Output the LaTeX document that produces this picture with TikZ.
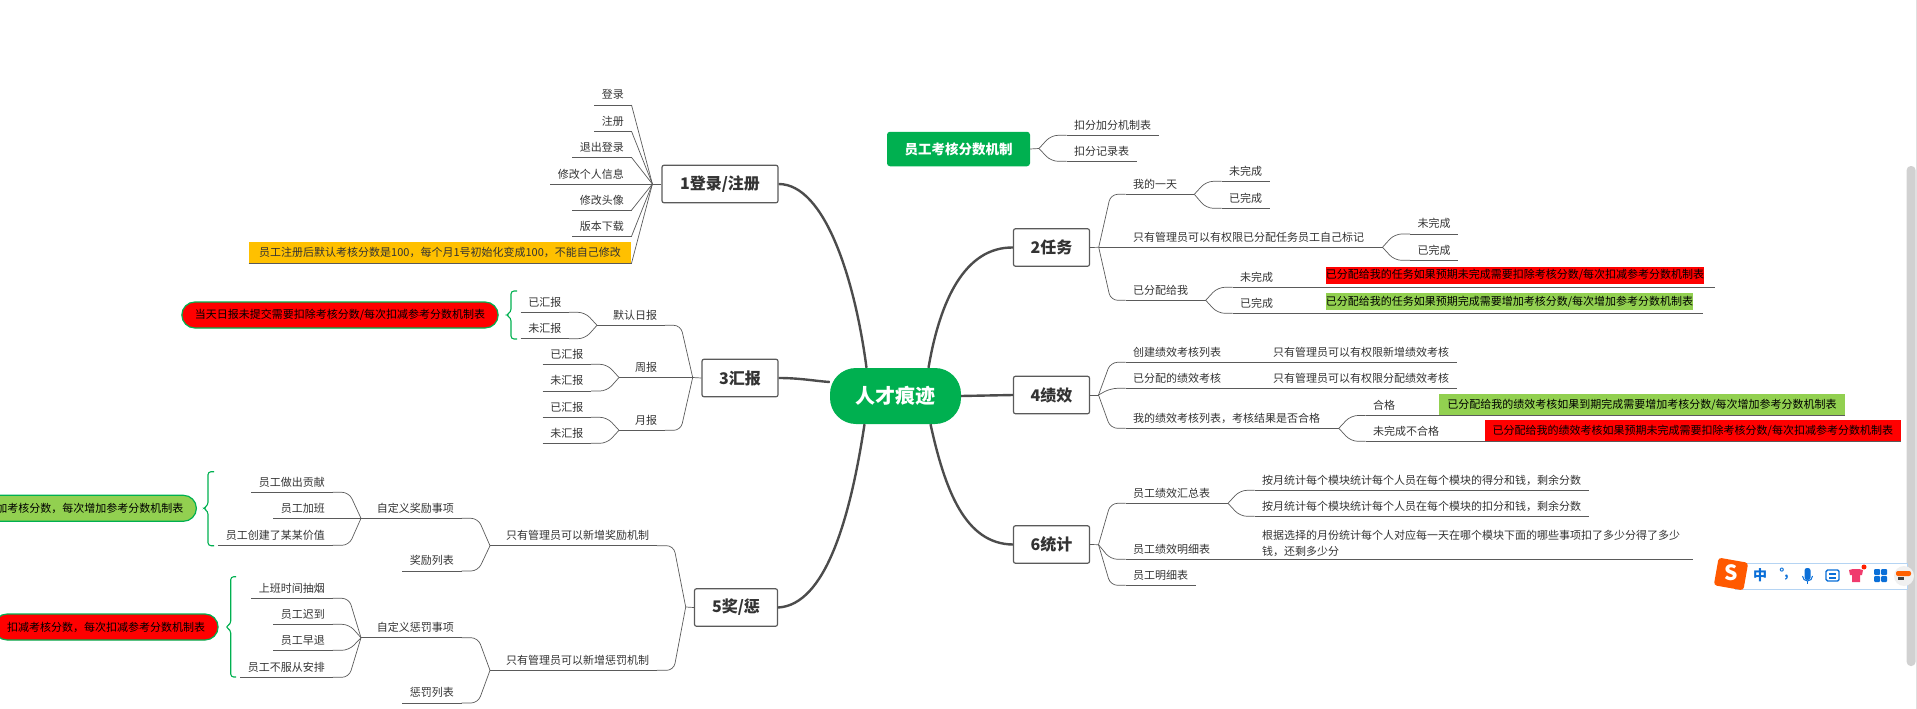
\documentclass[tikz,border=0pt]{standalone}
\usepackage{fontspec}
\setmainfont{Noto Sans CJK SC}
\definecolor{mapgreen}{HTML}{00B050}
\definecolor{mapred}{HTML}{FF0000}
\definecolor{maplime}{HTML}{92D050}
\definecolor{mapamber}{HTML}{FFC000}
\definecolor{mapline}{HTML}{5A5A5A}
\definecolor{mapink}{HTML}{333333}
\definecolor{imeblue}{HTML}{0A6FD8}
\tikzset{
    wire/.style={draw=mapline, line width=0.7pt, rounded corners=7pt},
    fan/.style={to path={-- ([xshift=#1]\tikztotarget |- \tikztostart) -- (\tikztotarget)}},
    leaf/.style={font=\fontsize{11}{13}\selectfont, text=mapink, inner xsep=7.5pt, inner ysep=0pt,
        minimum height=20pt,
        append after command={(\tikzlastnode.south west) edge[wire] (\tikzlastnode.south east)}},
    tagbox/.style={font=\fontsize{11}{13}\selectfont, text=black, inner ysep=0pt, fill=#1},
    pill/.style={font=\fontsize{11}{13}\selectfont, text=black, fill=#1, draw=mapgreen, line width=1.2pt,
        rounded corners=13pt, inner xsep=13pt, inner ysep=0pt, minimum height=26pt},
    topic/.style={font=\fontsize{16}{18}\bfseries, text=mapink, fill=white, draw=mapline, line width=1.2pt,
        rounded corners=2pt, minimum height=37.5pt, inner sep=0pt},
    branch/.style={draw=mapline!85!black, line width=2.4pt},
    curly/.style={draw=mapgreen, line width=1.1pt, rounded corners=3pt},
}
\begin{document}
\begin{tikzpicture}[x=1pt, y=-1pt]
    \useasboundingbox (0,0) rectangle (1917,709);

    % -- root and topics -------------------------------------------------------
    \node[font=\fontsize{20}{22}\bfseries, text=white, fill=mapgreen, rounded corners=26pt,
        minimum width=131pt, minimum height=56pt, inner sep=0pt] (root) at (895.5,396) {人才痕迹};
    \node[topic, minimum width=116pt] (login) at (720,184) {1登录/注册};
    \node[topic, minimum width=76pt] (task) at (1051.5,247.5) {2任务};
    \node[topic, minimum width=76pt] (report) at (740,378) {3汇报};
    \node[topic, minimum width=76pt] (merit) at (1051.5,395) {4绩效};
    \node[topic, minimum width=83pt] (award) at (736,607.5) {5奖/惩};
    \node[topic, minimum width=76pt] (stats) at (1051.5,544.5) {6统计};
    \node[font=\fontsize{13.5}{15}\bfseries, text=white, fill=mapgreen, rounded corners=3pt,
        minimum width=143pt, minimum height=34.5pt, inner sep=0pt] (rule) at (958.5,149) {员工考核分数机制};

    % -- main branches ---------------------------------------------------------
    \draw[branch] (login.east) .. controls (825,184) and (855,280) .. ([xshift=-29pt]root.north);
    \draw[branch] (task.west) .. controls (965,247) and (940,300) .. ([xshift=33pt]root.north);
    \draw[branch] (report.east) .. controls (800,378) and (815,381) .. (root.168);
    \draw[branch] (root.east) -- (merit.west);
    \draw[branch] (award.east) .. controls (825,605) and (850,520) .. ([xshift=-31pt]root.south);
    \draw[branch] (stats.west) .. controls (965,544) and (945,490) .. ([xshift=35pt]root.south);

    % -- 1: login leaves -------------------------------------------------------
    \coordinate (loginhub) at (652.4,184);
    \draw[wire] (login.west) -- (loginhub);
    \foreach \lbl/\nm/\y in {登录/lg1/105, 注册/lg2/131.3, 退出登录/lg3/157.4, 修改个人信息/lg4/184, 修改头像/lg5/210.2, 版本下载/lg6/236.3} {
        \node[leaf, anchor=south east] (\nm) at (631.5,\y) {\lbl};
        \draw[wire] (\nm.south east) -- (loginhub);
    }
    \node[leaf, anchor=south east, fill=mapamber, minimum height=21pt, minimum width=382.5pt] (lg7) at (631.5,263.3)
        {员工注册后默认考核分数是100，每个月1号初始化变成100，不能自己修改};
    \draw[wire] (lg7.south east) -- (loginhub);

    % -- 3: report -------------------------------------------------------------
    \coordinate (reporthub) at (692.7,377.5);
    \draw[wire] (report.west) -- (reporthub);
    \foreach \lbl/\nm/\x/\xh/\y in {默认日报/day/605.5/597/325.3, 周报/week/627.5/619/377.5, 月报/month/627.5/619/430.3} {
        \node[leaf, anchor=south west] (\nm) at (\x,\y) {\lbl};
        \coordinate (\nm hub) at (\xh,\y);
        \draw[wire] (\nm hub) -- (\nm.south west);
        \draw[wire] (\nm.south east) to[fan=-12pt] (reporthub);
    }
    \foreach \lbl/\nm/\hub/\x/\y in {已汇报/day1/dayhub/569/312.3, 未汇报/day2/dayhub/569/338.7,
        已汇报/week1/weekhub/591/364.3, 未汇报/week2/weekhub/591/391,
        已汇报/month1/monthhub/591/417.3, 未汇报/month2/monthhub/591/443.3} {
        \node[leaf, anchor=south east] (\nm) at (\x,\y) {\lbl};
        \draw[wire] (\nm.south east) to[fan=-12pt] (\hub);
    }
    \node[pill=mapred] (daynote) at (340,315) {当天日报未提交需要扣除考核分数/每次扣减参考分数机制表};

    % -- 5: award and penalty --------------------------------------------------
    \coordinate (awardhub) at (685.7,607);
    \draw[wire] (award.west) -- (awardhub);
    \foreach \lbl/\nm/\hub/\y in {只有管理员可以新增奖励机制/add/addhub/545.7, 只有管理员可以新增惩罚机制/cut/cuthub/670.3} {
        \node[leaf, anchor=south west] (\nm) at (498.5,\y) {\lbl};
        \coordinate (\hub) at (490,\y);
        \draw[wire] (\hub) -- (\nm.south west);
        \draw[wire] (\nm.south east) to[fan=-12pt] (awardhub);
    }
    \foreach \lbl/\nm/\hub/\up/\y in {自定义奖励事项/addc/addchub/addhub/518.3, 自定义惩罚事项/cutc/cutchub/cuthub/637.7} {
        \node[leaf, anchor=south east] (\nm) at (461.5,\y) {\lbl};
        \coordinate (\hub) at (361,\y);
        \draw[wire] (\hub) -- (\nm.south west);
        \draw[wire] (\nm.south east) to[fan=-12pt] (\up);
    }
    \foreach \lbl/\nm/\up/\y in {奖励列表/addl/addhub/571, 惩罚列表/cutl/cuthub/703} {
        \node[leaf, anchor=south east] (\nm) at (461.5,\y) {\lbl};
        \draw[wire] (\nm.south east) to[fan=-12pt] (\up);
    }
    \foreach \lbl/\nm/\hub/\y in {员工做出贡献/ad1/addchub/492.3, 员工加班/ad2/addchub/518.3, 员工创建了某某价值/ad3/addchub/545.3,
        上班时间抽烟/ct1/cutchub/598.3, 员工迟到/ct2/cutchub/624.3, 员工早退/ct3/cutchub/650.3, 员工不服从安排/ct4/cutchub/677.3} {
        \node[leaf, anchor=south east] (\nm) at (332.5,\y) {\lbl};
        \draw[wire] (\nm.south east) to[fan=-12pt] (\hub);
    }
    \node[pill=maplime, anchor=east] (addnote) at (197,508.3) {加考核分数，每次增加参考分数机制表};
    \node[pill=mapred, anchor=east] (cutnote) at (218.7,627) {扣减考核分数，每次扣减参考分数机制表};

    % -- curly marks ------------------------------------------------------------
    \foreach \xs/\xr/\xt/\ya/\ym/\yb in {511/517/506/291/315/339, 208/214/203.3/471.7/508.3/545.7, 230.7/236/225.3/576.7/627/677} {
        \draw[curly] (\xr,\ya) -- (\xs,\ya) -- (\xs,\ym-3) -- (\xt,\ym) -- (\xs,\ym+3) -- (\xs,\yb) -- (\xr,\yb);
    }

    % -- rule leaves -----------------------------------------------------------
    \coordinate (rulehub) at (1039,148.5);
    \draw[wire] (rule.east) -- (rulehub);
    \foreach \lbl/\nm/\y in {扣分加分机制表/rl1/135.3, 扣分记录表/rl2/161.3} {
        \node[leaf, anchor=south west] (\nm) at (1066.5,\y) {\lbl};
        \draw[wire] (\nm.south west) to[fan=12pt] (rulehub);
    }

    % -- 2: task ---------------------------------------------------------------
    \coordinate (taskhub) at (1098.7,247.3);
    \draw[wire] (task.east) -- (taskhub);
    \foreach \lbl/\nm/\hub/\xh/\y in {我的一天/tk1/tk1hub/1194.3/194.3, 只有管理员可以有权限已分配任务员工自己标记/tk2/tk2hub/1382.5/247.3, 已分配给我/tk3/tk3hub/1205.7/300.3} {
        \node[leaf, anchor=south west] (\nm) at (1125.5,\y) {\lbl};
        \coordinate (\hub) at (\xh,\y);
        \draw[wire] (\nm.south east) -- (\hub);
        \draw[wire] (\nm.south west) to[fan=12pt] (taskhub);
    }
    \foreach \lbl/\nm/\hub/\x/\y in {未完成/tk11/tk1hub/1221.5/181.3, 已完成/tk12/tk1hub/1221.5/208.3,
        未完成/tk21/tk2hub/1410/234, 已完成/tk22/tk2hub/1410/260.3,
        未完成/tk31/tk3hub/1232.5/287.3, 已完成/tk32/tk3hub/1232.5/313.3} {
        \node[leaf, anchor=south west] (\nm) at (\x,\y) {\lbl};
        \draw[wire] (\nm.south west) to[fan=12pt] (\hub);
    }
    \node[tagbox=mapred, anchor=south west, inner xsep=0pt, minimum height=16.5pt] (tk31tag) at (1325.7,283.7)
        {已分配给我的任务如果预期未完成需要扣除考核分数/每次扣减参考分数机制表};
    \node[tagbox=maplime, anchor=south west, inner xsep=0pt, minimum height=16.5pt] (tk32tag) at (1325.7,310)
        {已分配给我的任务如果预期完成需要增加考核分数/每次增加参考分数机制表};
    \coordinate (tk31end) at (1714.6,287.3);
    \coordinate (tk32end) at (1703,313.3);
    \draw[wire] (tk31.south east) -- (tk31end);
    \draw[wire] (tk32.south east) -- (tk32end);

    % -- 4: merit --------------------------------------------------------------
    \coordinate (merithub) at (1098.5,395);
    \draw[wire] (merit.east) -- (merithub);
    \foreach \lbl/\nm/\y in {创建绩效考核列表/mr1/362.3, 已分配的绩效考核/mr2/388.3, 我的绩效考核列表，考核结果是否合格/mr3/428.3} {
        \node[leaf, anchor=south west] (\nm) at (1125.5,\y) {\lbl};
        \draw[wire] (\nm.south west) to[fan=12pt] (merithub);
    }
    \foreach \lbl/\nm/\up/\y in {只有管理员可以有权限新增绩效考核/mr11/mr1/362.3, 只有管理员可以有权限分配绩效考核/mr21/mr2/388.3} {
        \node[leaf, anchor=south west] (\nm) at (1265.5,\y) {\lbl};
        \draw[wire] (\up.south east) -- (\nm.south west);
    }
    \coordinate (mr3hub) at (1338.8,428.3);
    \draw[wire] (mr3.south east) -- (mr3hub);
    \foreach \lbl/\nm/\y in {合格/mr31/415.5, 未完成不合格/mr32/441.3} {
        \node[leaf, anchor=south west] (\nm) at (1365.5,\y) {\lbl};
        \draw[wire] (\nm.south west) to[fan=12pt] (mr3hub);
    }
    \node[tagbox=maplime, anchor=south west, inner xsep=8pt, minimum height=21pt] (mr31tag) at (1439.2,415.5)
        {已分配给我的绩效考核如果到期完成需要增加考核分数/每次增加参考分数机制表};
    \node[tagbox=mapred, anchor=south west, inner xsep=8pt, minimum height=21pt] (mr32tag) at (1484.5,441.3)
        {已分配给我的绩效考核如果预期未完成需要扣除考核分数/每次扣减参考分数机制表};
    \draw[wire] (mr31.south east) -- (mr31tag.south west) -- (mr31tag.south east);
    \draw[wire] (mr32.south east) -- (mr32tag.south west) -- (mr32tag.south east);

    % -- 6: stats --------------------------------------------------------------
    \coordinate (statshub) at (1098.5,544.7);
    \draw[wire] (stats.east) -- (statshub);
    \foreach \lbl/\nm/\y in {员工绩效汇总表/st1/503.3, 员工绩效明细表/st2/559.3, 员工明细表/st3/585.3} {
        \node[leaf, anchor=south west] (\nm) at (1125.5,\y) {\lbl};
        \draw[wire] (\nm.south west) to[fan=12pt] (statshub);
    }
    \coordinate (st1hub) at (1228,503.3);
    \draw[wire] (st1.south east) -- (st1hub);
    \foreach \lbl/\nm/\y in {按月统计每个模块统计每个人员在每个模块的得分和钱，剩余分数/st11/490.3, 按月统计每个模块统计每个人员在每个模块的扣分和钱，剩余分数/st12/516.3} {
        \node[leaf, anchor=south west] (\nm) at (1254.5,\y) {\lbl};
        \draw[wire] (\nm.south west) to[fan=12pt] (st1hub);
    }
    \node[leaf, anchor=south west, text width=423pt, align=left, minimum height=32pt,
        font=\fontsize{11}{15.8}\selectfont] (st21) at (1254.5,559.3)
        {根据选择的月份统计每个人对应每一天在哪个模块下面的哪些事项扣了多少分得了多少\\钱，还剩多少分};
    \draw[wire] (st2.south east) -- (st21.south west);

    % -- scrollbar and input toolbar -------------------------------------------
    \draw[black!12, line width=0.8pt] (1916,0) -- (1916,709);
    \fill[black!18, rounded corners=4pt] (1906.7,166) rectangle (1915.5,666);
    \draw[fill=white, draw=imeblue!30] (1735,563.3) rectangle (1906.7,588.7);
    \fill[orange!70!red, rounded corners=3pt, rotate around={-10:(1731,574)}] (1716,560) rectangle (1746,588);
    \node[font=\fontsize{21}{21}\bfseries\itshape, text=white, inner sep=0pt] (imelogo) at (1731,573) {S};
    \node[font=\fontsize{14}{14}\bfseries, text=imeblue, inner sep=0pt] (imelang) at (1760,575.5) {中};
    \node[font=\fontsize{12}{12}\bfseries, text=imeblue, inner sep=0pt] (imepunct) at (1784,574) {°,};
    \fill[imeblue, rounded corners=2.5pt] (1804.5,568) rectangle (1810.5,580);
    \draw[imeblue, line width=1pt] (1802.5,576) arc[start angle=180, end angle=360, radius=5pt];
    \draw[imeblue, line width=1pt] (1807.5,581) -- (1807.5,584);
    \draw[imeblue, line width=1.4pt, rounded corners=1.5pt] (1826,570) rectangle (1839,581);
    \fill[imeblue] (1829,573) rectangle (1836,575);
    \fill[imeblue] (1829,577) rectangle (1836,579);
    \fill[magenta!60!orange] (1849,570) -- (1853,569) -- (1859,569) -- (1863,570) -- (1862,575) -- (1860,575)
        -- (1860,582) -- (1852,582) -- (1852,575) -- (1850,575) -- cycle;
    \fill[red!75!orange] (1864,567) circle[radius=2.5pt];
    \foreach \x/\y in {1877/572, 1884/572, 1877/579, 1884/579} {
        \fill[imeblue, rounded corners=1pt] (\x-3,\y-3) rectangle (\x+3,\y+3);
    }
    \fill[black!6] (1904,576) circle[radius=10pt];
    \fill[orange!75!red, rounded corners=2pt] (1896,571) rectangle (1911,576);
    \fill[black!75] (1898,577) rectangle (1904,580);
\end{tikzpicture}
\end{document}
